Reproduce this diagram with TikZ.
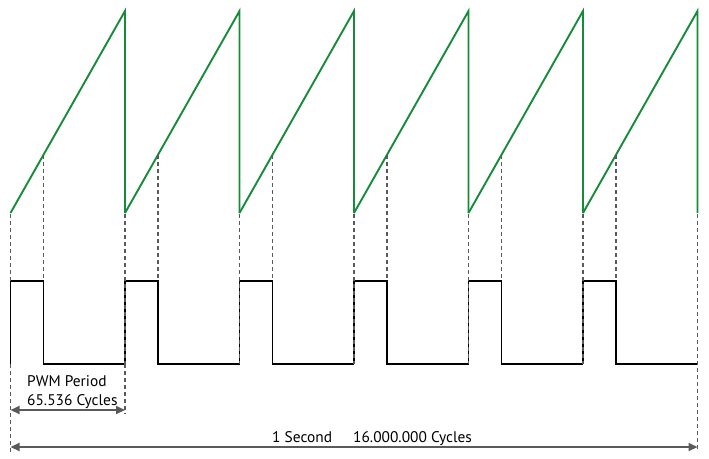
\documentclass[tikz,border=0pt]{standalone}
\usepackage{fontspec}
\setmainfont{PT Sans}
\usetikzlibrary{arrows.meta}
\definecolor{sawgreen}{RGB}{22,140,58}
\definecolor{guidegray}{RGB}{90,90,90}

\begin{document}
\begin{tikzpicture}[x=1pt, y=-1pt,
    saw/.style={sawgreen, line width=1.9pt},
    pwm/.style={black, line width=1.9pt},
    guide/.style={guidegray, line width=1.8pt, dash pattern=on 4pt off 3pt},
    span/.style={guidegray, line width=2pt,
        {Triangle[length=9pt, width=8pt]}-{Triangle[length=9pt, width=8pt]}},
    lbl/.style={font=\fontsize{15.4}{19}\selectfont, inner sep=0pt}]
    \useasboundingbox (0,0) rectangle (709,458);

    % Period start points
    \foreach \i in {0,...,6} {
        \coordinate (p\i) at ({10.5+114.5*\i}, 0);
    }

    % Sawtooth (counter)
    \foreach \i [evaluate=\i as \j using int(\i+1)] in {0,...,5} {
        \draw[saw] (p\i |- 0,213) -- (p\j |- 0,11) -- (p\j |- 0,213);
    }

    % PWM output
    \foreach \i [evaluate=\i as \j using int(\i+1)] in {0,...,5} {
        \draw[pwm] (p\i |- 0,364) -- (p\i |- 0,281) -- ([xshift=33pt]p\i |- 0,281)
            -- ([xshift=33pt]p\i |- 0,364) -- (p\j |- 0,364);
    }

    % Dashed guides
    \foreach \i in {1,...,5} {
        \draw[guide] (p\i |- 0,214) -- (p\i |- 0,364);
    }
    \foreach \i in {0,...,5} {
        \draw[guide] ([xshift=33pt]p\i |- 0,155) -- ([xshift=33pt]p\i |- 0,281);
    }
    \draw[guide] (p0 |- 0,214) -- (p0 |- 0,281);
    \draw[guide] (p0 |- 0,364) -- (p0 |- 0,452);
    \draw[guide] (p1 |- 0,364) -- (p1 |- 0,414);
    \draw[guide] (p6 |- 0,214) -- (p6 |- 0,452);

    % PWM period
    \coordinate (a0) at (p0 |- 0,410);
    \coordinate (a1) at (p1 |- 0,410);
    \draw[span] (a0) -- (a1);
    \node[lbl, anchor=base west] (per) at (27,386) {PWM Period};
    \node[lbl, anchor=base west] (cyc) at (27,405) {65.536 Cycles};

    % One second
    \coordinate (b0) at (p0 |- 0,447);
    \coordinate (b6) at (p6 |- 0,447);
    \draw[span] (b0) -- (b6);
    \node[lbl, anchor=base west] (sec) at (272,442) {1 Second};
    \node[lbl, anchor=base west] (tot) at (353,442) {16.000.000 Cycles};
\end{tikzpicture}
\end{document}
